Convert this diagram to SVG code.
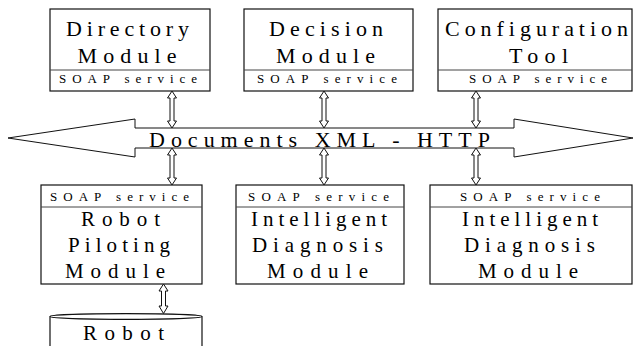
<svg xmlns="http://www.w3.org/2000/svg" width="635" height="346" viewBox="0 0 635 346" font-family="'Liberation Serif', 'Times New Roman', Tinos, 'DejaVu Serif', serif">
<style>
.box{fill:#fff;stroke:#111;stroke-width:1.2}
.sep{stroke:#444;stroke-width:1}
text{fill:#000;text-anchor:middle}
.t{font-size:22px}
.s{font-size:13px}
.b{font-size:21px}
.conn{fill:#fff;stroke:#111;stroke-width:1}
</style>
<rect width="635" height="346" fill="#fff"/>
<g id="bus">
<polygon class="conn" points="8,138 135,119 135,128 514,128 514,119 633,138 514,157 514,148 135,148 135,157"/>
<text class="t" x="319.5" y="147" textLength="341" lengthAdjust="spacing">Documents XML - HTTP</text>
</g>
<g id="directory">
<rect class="box" x="50" y="9" width="160" height="82"/>
<line class="sep" x1="50" y1="70" x2="210" y2="70"/>
<text class="t" x="127.5" y="36" textLength="123" lengthAdjust="spacing">Directory</text>
<text class="t" x="127" y="63" textLength="99" lengthAdjust="spacing">Module</text>
<text class="s" x="128" y="83" textLength="138" lengthAdjust="spacing">SOAP service</text>
</g>
<g id="decision">
<rect class="box" x="244" y="9" width="169" height="82"/>
<line class="sep" x1="244" y1="70" x2="413" y2="70"/>
<text class="t" x="326" y="36" textLength="114" lengthAdjust="spacing">Decision</text>
<text class="t" x="325.5" y="63" textLength="99" lengthAdjust="spacing">Module</text>
<text class="s" x="327" y="83" textLength="140" lengthAdjust="spacing">SOAP service</text>
</g>
<g id="configuration">
<rect class="box" x="438" y="9" width="194" height="82"/>
<line class="sep" x1="438" y1="70" x2="632" y2="70"/>
<text class="t" x="536.5" y="36" textLength="183" lengthAdjust="spacing">Configuration</text>
<text class="t" x="538.5" y="63" textLength="59" lengthAdjust="spacing">Tool</text>
<text class="s" x="538" y="83" textLength="138" lengthAdjust="spacing">SOAP service</text>
</g>
<g id="robot-piloting">
<rect class="box" x="41" y="185" width="161" height="99"/>
<line class="sep" x1="41" y1="207" x2="202" y2="207"/>
<text class="s" x="119.5" y="201" textLength="139" lengthAdjust="spacing">SOAP service</text>
<text class="b" x="120.5" y="226" textLength="79" lengthAdjust="spacing">Robot</text>
<text class="b" x="119" y="252" textLength="102" lengthAdjust="spacing">Piloting</text>
<text class="b" x="115" y="278" textLength="100" lengthAdjust="spacing">Module</text>
</g>
<g id="diagnosis-1">
<rect class="box" x="236" y="185" width="168" height="99"/>
<line class="sep" x1="236" y1="207" x2="404" y2="207"/>
<text class="s" x="318.5" y="201" textLength="141" lengthAdjust="spacing">SOAP service</text>
<text class="b" x="319" y="226" textLength="136" lengthAdjust="spacing">Intelligent</text>
<text class="b" x="317.5" y="252" textLength="131" lengthAdjust="spacing">Diagnosis</text>
<text class="b" x="317.5" y="278" textLength="101" lengthAdjust="spacing">Module</text>
</g>
<g id="diagnosis-2">
<rect class="box" x="430" y="185" width="202" height="99"/>
<line class="sep" x1="430" y1="207" x2="632" y2="207"/>
<text class="s" x="530" y="201" textLength="140" lengthAdjust="spacing">SOAP service</text>
<text class="b" x="530" y="226" textLength="136" lengthAdjust="spacing">Intelligent</text>
<text class="b" x="529.5" y="252" textLength="131" lengthAdjust="spacing">Diagnosis</text>
<text class="b" x="528" y="278" textLength="100" lengthAdjust="spacing">Module</text>
</g>
<g id="robot">
<path class="box" d="M50,316.5 L50,350 M202,316.5 L202,350"/>
<ellipse class="box" cx="126" cy="316.5" rx="76" ry="2.8"/>
<text class="b" x="123.5" y="340" textLength="81" lengthAdjust="spacing">Robot</text>
</g>
<g id="connectors">
<path class="conn" d="M172,91 L176.5,98 L174,98 L174,121 L176.5,121 L172,128 L167.5,121 L170,121 L170,98 L167.5,98 Z"/>
<path class="conn" d="M324,91 L328.5,98 L326,98 L326,121 L328.5,121 L324,128 L319.5,121 L322,121 L322,98 L319.5,98 Z"/>
<path class="conn" d="M476,91 L480.5,98 L478,98 L478,121 L480.5,121 L476,128 L471.5,121 L474,121 L474,98 L471.5,98 Z"/>
<path class="conn" d="M172,148 L176.5,155 L174,155 L174,178 L176.5,178 L172,185 L167.5,178 L170,178 L170,155 L167.5,155 Z"/>
<path class="conn" d="M324,148 L328.5,155 L326,155 L326,178 L328.5,178 L324,185 L319.5,178 L322,178 L322,155 L319.5,155 Z"/>
<path class="conn" d="M476,148 L480.5,155 L478,155 L478,178 L480.5,178 L476,185 L471.5,178 L474,178 L474,155 L471.5,155 Z"/>
<path class="conn" d="M163.5,284 L168,291 L165.5,291 L165.5,306 L168,306 L163.5,313.5 L159,306 L161.5,306 L161.5,291 L159,291 Z"/>
</g>
</svg>
